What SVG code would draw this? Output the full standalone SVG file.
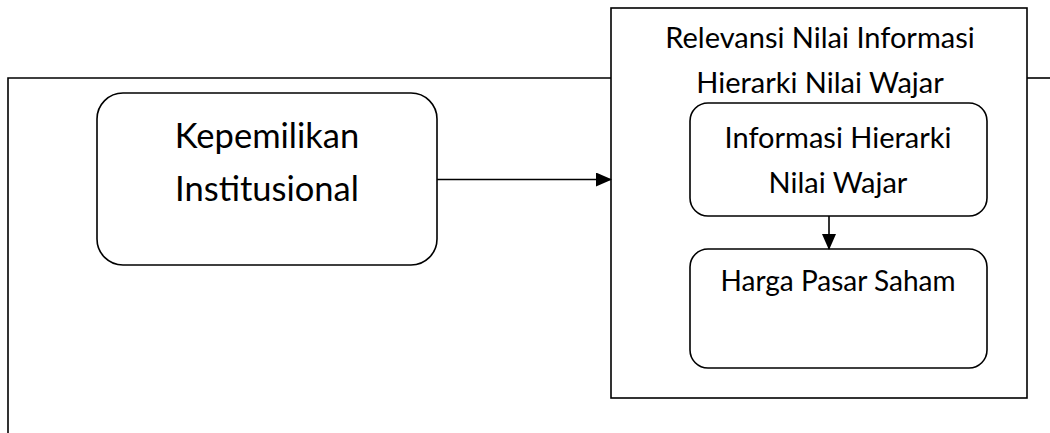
<svg xmlns="http://www.w3.org/2000/svg" width="1050" height="433" viewBox="0 0 1050 433">
<defs>
<style>
.b{fill:#fff;stroke:#000;stroke-width:1.6}
.f{fill:none;stroke:#000;stroke-width:1.6}
.l{fill:none;stroke:#000;stroke-width:1.6}
.t{font-family:Lato,"Liberation Sans",sans-serif;fill:#000;text-anchor:middle}
</style>
<marker id="ah" markerWidth="16" markerHeight="14" refX="15" refY="7" orient="auto" markerUnits="userSpaceOnUse">
<path d="M0,0 L16,7 L0,14 Z" fill="#000"/>
</marker>
</defs>
<rect width="1050" height="433" fill="#fff"/>
<g id="relevansi">
<rect class="f" x="611" y="8" width="416" height="390"/>
<text class="t" x="820" y="48" font-size="29">Relevansi Nilai Informasi</text>
<text class="t" x="820" y="93" font-size="29">Hierarki Nilai Wajar</text>
</g>
<g id="kepemilikan">
<rect class="b" x="97" y="93" width="340" height="172" rx="26"/>
<text class="t" x="267" y="148" font-size="34.5">Kepemilikan</text>
<text class="t" x="267" y="201" font-size="34.5">Institusional</text>
</g>
<g id="informasi">
<rect class="b" x="690" y="103" width="297" height="113" rx="18"/>
<text class="t" x="838" y="148" font-size="29">Informasi Hierarki</text>
<text class="t" x="838" y="193" font-size="29">Nilai Wajar</text>
</g>
<g id="harga">
<rect class="b" x="690" y="249" width="297" height="119" rx="18"/>
<text class="t" x="838" y="291" font-size="28">Harga Pasar Saham</text>
</g>
<g id="connectors">
<path class="l" d="M8,433 V78 H611"/>
<path class="l" d="M1027,78 H1050"/>
<path class="l" d="M437,179.5 H611" marker-end="url(#ah)"/>
<path class="l" d="M829,216 V249" marker-end="url(#ah)"/>
</g>
</svg>
